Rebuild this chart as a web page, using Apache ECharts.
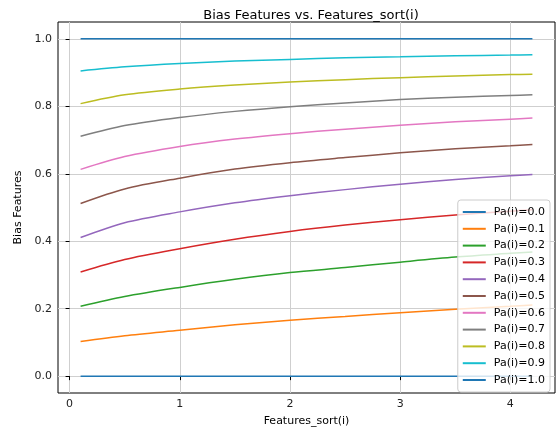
<!DOCTYPE html>
<html>
<head>
<meta charset="utf-8">
<script src="https://cdn.jsdelivr.net/npm/echarts@6/dist/echarts.min.js"></script>
<style>
  html, body { margin: 0; padding: 0; background: #fff; }
  #chart { width: 558px; height: 429px; }
</style>
</head>
<body>
<div id="chart"></div>
<script>
var xs = [0.1, 0.5, 1.0, 1.5, 2.0, 2.5, 3.0, 3.5, 4.0, 4.2];
var pa00 = [0, 0, 0, 0, 0, 0, 0, 0, 0, 0];
var pa01 = [0.103, 0.120, 0.136, 0.152, 0.166, 0.177, 0.188, 0.198, 0.207, 0.211];
var pa02 = [0.207, 0.236, 0.263, 0.287, 0.307, 0.322, 0.338, 0.353, 0.364, 0.368];
var pa03 = [0.309, 0.346, 0.378, 0.406, 0.429, 0.448, 0.464, 0.478, 0.489, 0.493];
var pa04 = [0.411, 0.455, 0.487, 0.514, 0.535, 0.553, 0.569, 0.583, 0.594, 0.598];
var pa05 = [0.512, 0.555, 0.587, 0.614, 0.633, 0.648, 0.662, 0.674, 0.683, 0.687];
var pa06 = [0.613, 0.651, 0.681, 0.703, 0.719, 0.732, 0.744, 0.754, 0.762, 0.765];
var pa07 = [0.711, 0.743, 0.767, 0.785, 0.799, 0.810, 0.820, 0.827, 0.832, 0.834];
var pa08 = [0.808, 0.834, 0.851, 0.863, 0.872, 0.879, 0.885, 0.890, 0.894, 0.895];
var pa09 = [0.905, 0.917, 0.927, 0.934, 0.939, 0.944, 0.947, 0.950, 0.952, 0.953];
var pa10 = [1, 1, 1, 1, 1, 1, 1, 1, 1, 1];
var names = ['Pa(i)=0.0', 'Pa(i)=0.1', 'Pa(i)=0.2', 'Pa(i)=0.3', 'Pa(i)=0.4', 'Pa(i)=0.5',
             'Pa(i)=0.6', 'Pa(i)=0.7', 'Pa(i)=0.8', 'Pa(i)=0.9', 'Pa(i)=1.0'];
var xTicks = [0, 1, 2, 3, 4];
var yTicks = [0, 0.2, 0.4, 0.6, 0.8, 1.0];

var colors = ['#1f77b4', '#ff7f0e', '#2ca02c', '#d62728', '#9467bd', '#8c564b',
              '#e377c2', '#7f7f7f', '#bcbd22', '#17becf', '#1f77b4'];
var allData = [pa00, pa01, pa02, pa03, pa04, pa05, pa06, pa07, pa08, pa09, pa10];

var chart = echarts.init(document.getElementById('chart'));
var font = 'DejaVu Sans';

var series = allData.map(function (ys, i) {
  return {
    name: names[i],
    type: 'line',
    data: xs.map(function (x, j) { return [x, ys[j]]; }),
    smooth: 0.3,
    showSymbol: false,
    lineStyle: { width: 1.5, color: colors[i] },
    itemStyle: { color: colors[i] },
    emphasis: { disabled: true }
  };
});

var option = {
  animation: false,
  backgroundColor: '#fff',
  title: {
    text: 'Bias Features vs. Features_sort(i)',
    left: 306, top: 4, textAlign: 'center',
    textStyle: { fontFamily: font, fontSize: 13, fontWeight: 'normal', color: '#000' }
  },
  grid: {
    left: 58, right: 3, top: 22, bottom: 36,
    outerBoundsMode: 'none',
    show: true, borderColor: '#000', borderWidth: 1, backgroundColor: 'transparent'
  },
  legend: {
    data: names,
    orient: 'vertical',
    right: 8, top: 200,
    icon: 'rect',
    itemWidth: 23, itemHeight: 2,
    itemGap: 2.8,
    padding: [5, 5, 5, 5],
    backgroundColor: 'rgba(255,255,255,0.8)',
    borderColor: '#ccc', borderWidth: 1, borderRadius: 3,
    textStyle: { fontFamily: font, fontSize: 11, color: '#000', lineHeight: 14, padding: [0, 0, 0, 3] }
  },
  xAxis: {
    type: 'value',
    min: -0.105, max: 4.405,
    name: 'Features_sort(i)',
    nameLocation: 'middle', nameGap: 23,
    nameTextStyle: { fontFamily: font, fontSize: 11, color: '#000' },
    axisLine: { show: false },
    axisTick: { show: true, inside: false, length: 4, customValues: xTicks, lineStyle: { color: '#000' } },
    axisLabel: { customValues: xTicks, fontFamily: font, fontSize: 11, color: '#222', margin: 6 },
    splitLine: { show: true, lineStyle: { color: '#cfcfcf', width: 1 } }
  },
  yAxis: {
    type: 'value',
    min: -0.05, max: 1.05,
    name: 'Bias Features',
    nameLocation: 'middle', nameGap: 32,
    nameTextStyle: { fontFamily: font, fontSize: 11, color: '#000' },
    axisLine: { show: false },
    axisTick: { show: true, inside: false, length: 4, customValues: yTicks, lineStyle: { color: '#000' } },
    axisLabel: {
      customValues: yTicks, fontFamily: font, fontSize: 11, color: '#222', margin: 6,
      formatter: function (v) { return v.toFixed(1); }
    },
    splitLine: { show: true, lineStyle: { color: '#cfcfcf', width: 1 } }
  },
  series: series
};

chart.setOption(option);
</script>
</body>
</html>
